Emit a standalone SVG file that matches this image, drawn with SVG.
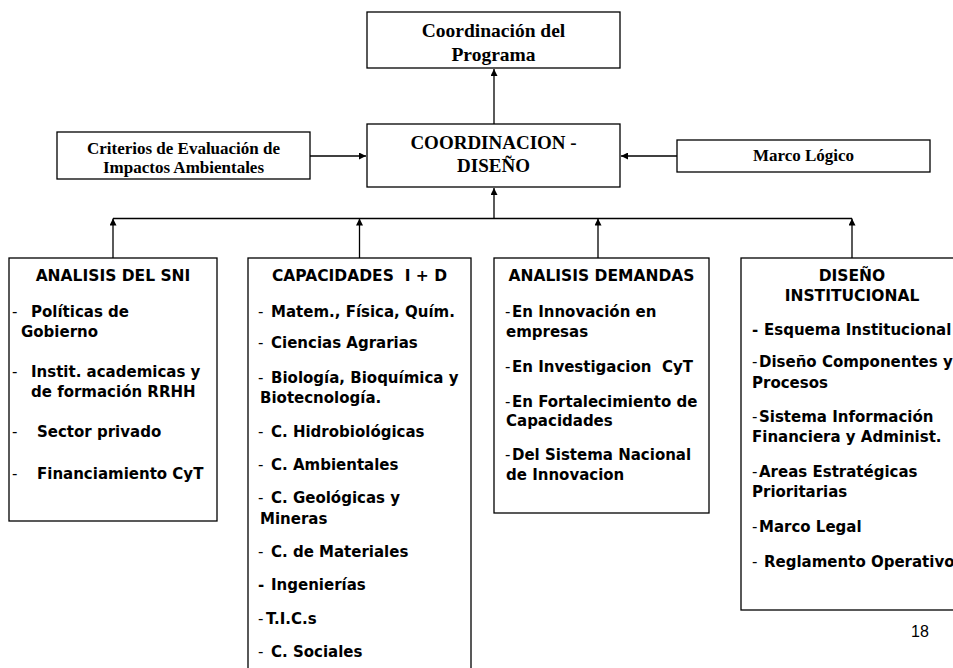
<svg xmlns="http://www.w3.org/2000/svg" width="953" height="668" viewBox="0 0 953 668">
<style>
.box{fill:#fff;stroke:#000;stroke-width:1.3}
.ser{font-family:"Liberation Serif","Times New Roman",serif;font-weight:bold;font-size:17px;fill:#000}
.big{font-size:19px}
.prog{font-size:19.5px}
.t{font-family:"DejaVu Sans",Verdana,sans-serif;font-weight:bold;font-size:15px;fill:#000}
.h{font-size:15.5px;text-anchor:middle}
.n{font-weight:normal}
.c{stroke:#000;stroke-width:1.3;fill:none}
.num{font-family:"Liberation Sans",Arial,sans-serif;font-size:16px;fill:#000}
</style>
<defs>
<marker id="ah" viewBox="0 0 10 10" refX="10" refY="5" markerWidth="7" markerHeight="7" markerUnits="userSpaceOnUse" orient="auto">
<path d="M0,0 L10,5 L0,10 z" fill="#000"/>
</marker>
</defs>
<rect width="953" height="668" fill="#fff"/>
<g id="connectors">
<line class="c" x1="310" y1="156" x2="366" y2="156" marker-end="url(#ah)"/>
<line class="c" x1="677" y1="156" x2="621" y2="156" marker-end="url(#ah)"/>
<line class="c" x1="494" y1="124" x2="494" y2="69" marker-end="url(#ah)"/>
<line class="c" x1="494" y1="218.5" x2="494" y2="188" marker-end="url(#ah)"/>
<line class="c" x1="113" y1="218.5" x2="852" y2="218.5"/>
<line class="c" x1="113" y1="258" x2="113" y2="218.5" marker-end="url(#ah)"/>
<line class="c" x1="359.5" y1="258" x2="359.5" y2="218.5" marker-end="url(#ah)"/>
<line class="c" x1="598" y1="258" x2="598" y2="218.5" marker-end="url(#ah)"/>
<line class="c" x1="852" y1="258" x2="852" y2="218.5" marker-end="url(#ah)"/>
</g>
<g id="programa">
<rect class="box" x="367" y="12" width="253" height="56"/>
<text class="ser prog" text-anchor="middle" x="493.5" y="37">Coordinación del</text>
<text class="ser prog" text-anchor="middle" x="493.5" y="61">Programa</text>
</g>
<g id="coordinacion">
<rect class="box" x="367" y="124" width="253" height="63"/>
<text class="ser big" text-anchor="middle" x="493.5" y="149">COORDINACION -</text>
<text class="ser big" text-anchor="middle" x="493.5" y="172">DISEÑO</text>
</g>
<g id="criterios">
<rect class="box" x="57" y="132" width="253" height="47"/>
<text class="ser" text-anchor="middle" x="183.5" y="154">Criterios de Evaluación de</text>
<text class="ser" text-anchor="middle" x="183.5" y="173">Impactos Ambientales</text>
</g>
<g id="marco">
<rect class="box" x="677" y="140" width="253" height="32"/>
<text class="ser" text-anchor="middle" x="803.5" y="161">Marco Lógico</text>
</g>
<g id="sni">
<rect class="box" x="9" y="258" width="208" height="263"/>
<text class="t h" x="113" y="281">ANALISIS DEL SNI</text>
<text class="t" x="12" y="317"><tspan class="n">-</tspan><tspan x="31">Políticas de</tspan></text>
<text class="t" x="21" y="337">Gobierno</text>
<text class="t" x="12" y="377"><tspan class="n">-</tspan><tspan x="31">Instit. academicas y</tspan></text>
<text class="t" x="31" y="397">de formación RRHH</text>
<text class="t" x="12" y="437"><tspan class="n">-</tspan><tspan x="37">Sector privado</tspan></text>
<text class="t" x="12" y="479"><tspan class="n">-</tspan><tspan x="37">Financiamiento CyT</tspan></text>
</g>
<g id="capacidades">
<rect class="box" x="248" y="258" width="223" height="420"/>
<text class="t h" x="359.5" y="281" xml:space="preserve">CAPACIDADES  I + D</text>
<text class="t" x="258" y="317"><tspan class="n">-</tspan><tspan x="271">Matem., Física, Quím.</tspan></text>
<text class="t" x="258" y="348"><tspan class="n">-</tspan><tspan x="271">Ciencias Agrarias</tspan></text>
<text class="t" x="258" y="383"><tspan class="n">-</tspan><tspan x="271">Biología, Bioquímica y</tspan></text>
<text class="t" x="260" y="403">Biotecnología.</text>
<text class="t" x="258" y="437"><tspan class="n">-</tspan><tspan x="271">C. Hidrobiológicas</tspan></text>
<text class="t" x="258" y="470"><tspan class="n">-</tspan><tspan x="271">C. Ambientales</tspan></text>
<text class="t" x="258" y="503"><tspan class="n">-</tspan><tspan x="271">C. Geológicas y</tspan></text>
<text class="t" x="260" y="524">Mineras</text>
<text class="t" x="258" y="557"><tspan class="n">-</tspan><tspan x="271">C. de Materiales</tspan></text>
<text class="t" x="258" y="590">-<tspan x="271">Ingenierías</tspan></text>
<text class="t" x="258" y="624"><tspan class="n">-</tspan><tspan x="266">T.I.C.s</tspan></text>
<text class="t" x="258" y="657"><tspan class="n">-</tspan><tspan x="271">C. Sociales</tspan></text>
</g>
<g id="demandas">
<rect class="box" x="494" y="258" width="215" height="255"/>
<text class="t h" x="601.5" y="281">ANALISIS DEMANDAS</text>
<text class="t" x="505" y="317"><tspan class="n">-</tspan><tspan x="512">En Innovación en</tspan></text>
<text class="t" x="506" y="337">empresas</text>
<text class="t" x="505" y="372" xml:space="preserve"><tspan class="n">-</tspan><tspan x="512">En Investigacion  CyT</tspan></text>
<text class="t" x="505" y="407"><tspan class="n">-</tspan><tspan x="512">En Fortalecimiento de</tspan></text>
<text class="t" x="506" y="426">Capacidades</text>
<text class="t" x="505" y="460"><tspan class="n">-</tspan><tspan x="512">Del Sistema Nacional</tspan></text>
<text class="t" x="506" y="480">de Innovacion</text>
</g>
<g id="diseno">
<rect class="box" x="741" y="258" width="222" height="352"/>
<text class="t h" x="852" y="281">DISEÑO</text>
<text class="t h" x="852" y="301">INSTITUCIONAL</text>
<text class="t" x="752" y="335">-<tspan x="764">Esquema Institucional</tspan></text>
<text class="t" x="752" y="367"><tspan class="n">-</tspan><tspan x="759">Diseño Componentes y</tspan></text>
<text class="t" x="752" y="388">Procesos</text>
<text class="t" x="752" y="422"><tspan class="n">-</tspan><tspan x="759">Sistema Información</tspan></text>
<text class="t" x="752" y="442">Financiera y Administ.</text>
<text class="t" x="752" y="477"><tspan class="n">-</tspan><tspan x="759">Areas Estratégicas</tspan></text>
<text class="t" x="752" y="497">Prioritarias</text>
<text class="t" x="752" y="532"><tspan class="n">-</tspan><tspan x="759">Marco Legal</tspan></text>
<text class="t" x="752" y="567"><tspan class="n">-</tspan><tspan x="764">Reglamento Operativo</tspan></text>
</g>
<text class="num" x="920" y="637" text-anchor="middle">18</text>
</svg>
